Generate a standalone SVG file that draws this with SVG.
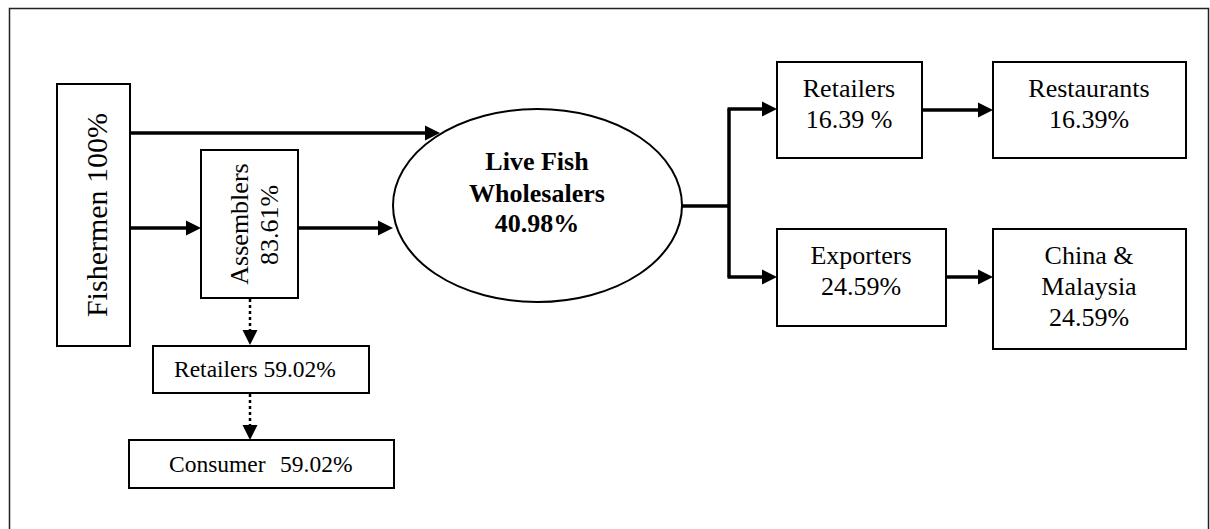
<svg xmlns="http://www.w3.org/2000/svg" width="1210" height="529" viewBox="0 0 1210 529">
<style>
.box{fill:#fff;stroke:#000;stroke-width:2}
.t{font-family:"Liberation Serif","Times New Roman",serif;fill:#000}
.c{stroke:#000;stroke-width:3.5;fill:none}
.d{stroke:#000;stroke-width:2.5;fill:none;stroke-dasharray:3,3}
</style>
<defs>
<marker id="ah" markerUnits="userSpaceOnUse" markerWidth="16" markerHeight="16" refX="0" refY="8" viewBox="0 0 16 16" orient="auto">
<path d="M0,0.5 L15,8 L0,15.5 z" fill="#000"/>
</marker>
</defs>
<rect x="9.5" y="8.5" width="1199" height="530" fill="#fff" stroke="#222" stroke-width="1.5"/>
<g id="connectors">
<path class="c" d="M130,133 H425" marker-end="url(#ah)"/>
<path class="c" d="M130,228 H186" marker-end="url(#ah)"/>
<path class="c" d="M298,228 H378" marker-end="url(#ah)"/>
<path class="d" d="M250,299 V330" marker-end="url(#ah)"/>
<path class="d" d="M250,394 V425" marker-end="url(#ah)"/>
<path class="c" d="M682,206 H729"/>
<path class="c" d="M729,109 V277"/>
<path class="c" d="M727.5,109 H762" marker-end="url(#ah)"/>
<path class="c" d="M727.5,277 H762" marker-end="url(#ah)"/>
<path class="c" d="M922,110 H978" marker-end="url(#ah)"/>
<path class="c" d="M946,277 H978" marker-end="url(#ah)"/>
</g>
<g id="fishermen">
<rect class="box" x="57" y="84" width="73" height="262"/>
<text class="t" font-size="30" text-anchor="middle" transform="translate(107,215) rotate(-90)">Fishermen 100%</text>
</g>
<g id="assemblers">
<rect class="box" x="201" y="150" width="97" height="148"/>
<text class="t" font-size="26" text-anchor="middle" transform="translate(248,224) rotate(-90)">Assemblers</text>
<text class="t" font-size="26" text-anchor="middle" transform="translate(278,225) rotate(-90)">83.61%</text>
</g>
<g id="wholesalers">
<ellipse cx="537.5" cy="205.5" rx="144.5" ry="96.5" fill="#fff" stroke="#000" stroke-width="2"/>
<text class="t" font-size="26" font-weight="bold" text-anchor="middle" x="537" y="170">Live Fish</text>
<text class="t" font-size="26" font-weight="bold" text-anchor="middle" x="537" y="202">Wholesalers</text>
<text class="t" font-size="26" font-weight="bold" text-anchor="middle" x="537" y="232">40.98%</text>
</g>
<g id="retailers-local">
<rect class="box" x="153" y="346" width="216" height="47"/>
<text class="t" font-size="23.5" x="174" y="377">Retailers 59.02%</text>
</g>
<g id="consumer">
<rect class="box" x="129" y="440" width="265" height="48"/>
<text class="t" font-size="23.5" x="169" y="472">Consumer</text>
<text class="t" font-size="23.5" x="280" y="472">59.02%</text>
</g>
<g id="retailers">
<rect class="box" x="777" y="62" width="145" height="96"/>
<text class="t" font-size="26" text-anchor="middle" x="849" y="97">Retailers</text>
<text class="t" font-size="26" text-anchor="middle" x="849" y="128">16.39 %</text>
</g>
<g id="restaurants">
<rect class="box" x="993" y="62" width="193" height="96"/>
<text class="t" font-size="26" text-anchor="middle" x="1089" y="97">Restaurants</text>
<text class="t" font-size="26" text-anchor="middle" x="1089" y="128">16.39%</text>
</g>
<g id="exporters">
<rect class="box" x="777" y="229" width="169" height="97"/>
<text class="t" font-size="26" text-anchor="middle" x="861" y="264">Exporters</text>
<text class="t" font-size="26" text-anchor="middle" x="861" y="295">24.59%</text>
</g>
<g id="china-malaysia">
<rect class="box" x="993" y="229" width="193" height="120"/>
<text class="t" font-size="26" text-anchor="middle" x="1089" y="264">China &amp;</text>
<text class="t" font-size="26" text-anchor="middle" x="1089" y="295">Malaysia</text>
<text class="t" font-size="26" text-anchor="middle" x="1089" y="326">24.59%</text>
</g>
</svg>
